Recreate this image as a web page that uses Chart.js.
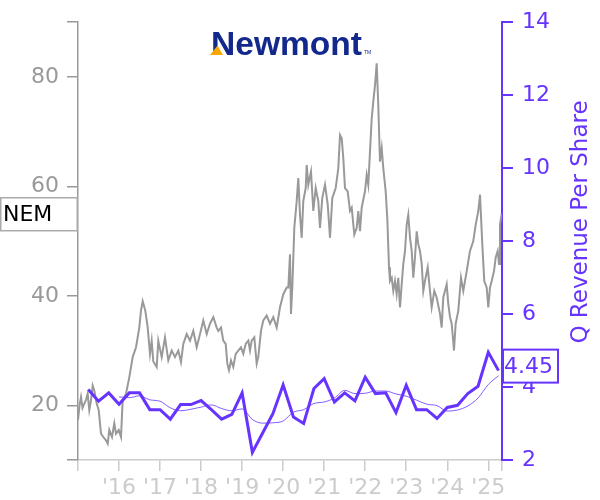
<!DOCTYPE html>
<html><head><meta charset="utf-8">
<script src="https://cdn.jsdelivr.net/npm/chart.js@4.4.1/dist/chart.umd.min.js"></script>
<style>html,body{margin:0;padding:0;background:#fff;}#wrap{width:600px;height:500px;position:relative;}</style>
</head><body><div id="wrap"><canvas id="c" width="600" height="500"></canvas></div>
<script>
// ---- data (decimal years) ----
const priceDates = [2015.000,2015.037,2015.073,2015.110,2015.154,2015.195,2015.236,2015.275,2015.317,2015.358,2015.397,2015.456,2015.505,2015.536,2015.561,2015.617,2015.682,2015.724,2015.763,2015.829,2015.885,2015.926,2015.992,2016.048,2016.089,2016.170,2016.250,2016.333,2016.414,2016.494,2016.535,2016.577,2016.640,2016.699,2016.755,2016.796,2016.835,2016.918,2016.957,2017.040,2017.120,2017.201,2017.284,2017.364,2017.445,2017.510,2017.566,2017.649,2017.730,2017.810,2017.893,2017.973,2018.054,2018.137,2018.217,2018.298,2018.380,2018.419,2018.485,2018.541,2018.600,2018.639,2018.680,2018.729,2018.785,2018.844,2018.907,2018.973,2019.029,2019.087,2019.151,2019.192,2019.233,2019.297,2019.355,2019.394,2019.460,2019.516,2019.599,2019.680,2019.760,2019.843,2019.923,2020.004,2020.087,2020.126,2020.167,2020.191,2020.223,2020.272,2020.330,2020.369,2020.411,2020.452,2020.491,2020.550,2020.574,2020.613,2020.679,2020.735,2020.793,2020.857,2020.898,2020.954,2021.020,2021.086,2021.142,2021.198,2021.281,2021.344,2021.386,2021.427,2021.466,2021.507,2021.573,2021.629,2021.671,2021.734,2021.793,2021.832,2021.873,2021.914,2021.995,2022.036,2022.075,2022.117,2022.158,2022.197,2022.239,2022.280,2022.319,2022.360,2022.402,2022.441,2022.499,2022.538,2022.580,2022.604,2022.646,2022.685,2022.726,2022.767,2022.806,2022.848,2022.889,2022.928,2022.970,2023.011,2023.050,2023.092,2023.133,2023.172,2023.213,2023.255,2023.294,2023.335,2023.377,2023.416,2023.457,2023.523,2023.579,2023.620,2023.684,2023.742,2023.823,2023.864,2023.903,2023.986,2024.025,2024.067,2024.108,2024.164,2024.205,2024.269,2024.335,2024.391,2024.474,2024.554,2024.634,2024.693,2024.756,2024.798,2024.854,2024.902,2024.961,2025.000,2025.041,2025.083,2025.139,2025.180,2025.229,2025.261,2025.285,2025.327];
const priceValues = [17.3,20.0,21.5,19.5,20.3,21.0,22.1,19.1,20.9,23.6,22.7,20.3,19.1,16.7,14.8,14.2,13.6,13.0,15.5,14.2,16.7,14.8,15.5,14.2,20.9,22.1,25.1,28.8,30.6,34.2,37.3,39.0,37.3,34.2,29.4,31.8,28.0,27.0,31.8,28.8,32.4,28.2,30.0,28.8,30.0,27.9,31.2,33.0,31.8,33.6,30.6,33.0,35.5,33.0,34.9,36.1,34.2,33.6,34.2,31.8,31.2,27.6,26.4,28.2,27.0,29.4,30.0,30.6,29.4,31.2,31.8,30.0,31.8,32.4,27.6,28.8,33.6,35.5,36.4,34.9,36.1,34.2,37.9,40.3,41.5,41.5,47.6,36.7,41.5,52.4,57.3,61.5,54.8,50.6,57.3,59.7,63.9,60.3,62.7,55.5,59.7,57.3,52.4,57.9,60.3,56.7,50.6,57.9,59.7,63.3,69.4,68.8,65.2,59.7,59.1,55.5,56.1,51.2,52.4,55.5,51.8,56.1,59.1,62.1,60.3,66.4,72.4,75.5,78.5,82.5,74.8,64.5,67.0,63.3,59.1,54.2,45.2,42.7,43.3,40.9,42.7,40.3,43.3,37.9,42.1,45.8,48.2,53.0,54.8,50.6,48.2,43.3,47.0,51.8,49.4,48.2,45.8,40.9,42.7,45.2,40.9,37.9,40.9,39.7,36.7,34.2,39.7,42.1,38.5,36.1,34.9,30.0,34.9,37.3,43.3,40.9,44.5,48.2,50.0,53.0,55.5,58.5,49.4,42.7,41.5,37.9,41.5,42.7,44.5,47.0,48.2,45.8,53.0,55.0];

const quarterDates = [2015.25,2015.5,2015.75,2016.0,2016.25,2016.5,2016.75,2017.0,2017.25,2017.5,2017.75,2018.0,2018.25,2018.5,2018.75,2019.0,2019.25,2019.5,2019.75,2020.0,2020.25,2020.5,2020.75,2021.0,2021.25,2021.5,2021.75,2022.0,2022.25,2022.5,2022.75,2023.0,2023.25,2023.5,2023.75,2024.0,2024.25,2024.5,2024.75,2025.0,2025.25];
const revenuePerShare = [3.93,3.61,3.84,3.53,3.84,3.84,3.38,3.38,3.12,3.52,3.52,3.63,3.38,3.12,3.25,3.84,2.21,2.74,3.27,4.06,3.18,3.00,3.96,4.23,3.59,3.84,3.62,4.27,3.82,3.84,3.30,4.05,3.38,3.38,3.14,3.44,3.50,3.82,4.02,4.95,4.45];

const avgDates = [2016.0,2016.25,2016.5,2016.75,2017.0,2017.25,2017.5,2017.75,2018.0,2018.25,2018.5,2018.75,2019.0,2019.25,2019.5,2019.75,2020.0,2020.25,2020.5,2020.75,2021.0,2021.25,2021.5,2021.75,2022.0,2022.25,2022.5,2022.75,2023.0,2023.25,2023.5,2023.75,2024.0,2024.25,2024.5,2024.75,2025.0,2025.25];
const avgRevenue = [3.73,3.71,3.76,3.65,3.61,3.43,3.35,3.39,3.45,3.51,3.41,3.35,3.40,3.11,3.01,3.02,3.07,3.31,3.38,3.55,3.59,3.70,3.91,3.82,3.83,3.89,3.89,3.81,3.75,3.64,3.53,3.49,3.34,3.37,3.48,3.70,4.07,4.31];

const yearTicks = [2015,2016,2017,2018,2019,2020,2021,2022,2023,2024,2025];
const xEnd = 2025.334;
const leftTicks = [10,20,40,60,80,90];
const leftLabeled = [20,40,60,80];
const rightTicks = [2,4,6,8,10,12,14];
const tickerLabel = 'NEM';
const lastRevenueLabel = '4.45';
const lastRevenueValue = 4.45;
const logoText = 'Newmont';
const rightTitle = 'Q Revenue Per Share';

const PURPLE = '#6633ff';
const GRAY = '#999999';
const LIGHT = '#cccccc';
const FONT = 'DejaVu Sans';

const overlay = {
  id: 'overlay',
  afterDraw(chart) {
    const ctx = chart.ctx;
    // logo
    ctx.save();
    ctx.font = 'bold 33px "Liberation Sans"';
    const w = ctx.measureText(logoText).width;
    ctx.translate(211, 55);
    ctx.scale(151 / w, 1);
    ctx.fillStyle = '#13288c';
    ctx.textBaseline = 'alphabetic';
    ctx.fillText(logoText, 0, 0);
    ctx.restore();
    ctx.save();
    ctx.fillStyle = '#f5a800';
    ctx.beginPath();
    ctx.moveTo(210, 55); ctx.lineTo(223, 55); ctx.lineTo(217.5, 45.5); ctx.closePath(); ctx.fill();
    ctx.fillStyle = '#13288c';
    ctx.font = '5px "Liberation Sans"';
    ctx.fillText('TM', 364, 54);
    ctx.restore();

    // right axis title
    ctx.save();
    ctx.translate(581, 222);
    ctx.rotate(-Math.PI / 2);
    ctx.font = '23px "' + FONT + '"';
    ctx.fillStyle = PURPLE;
    ctx.textAlign = 'center';
    ctx.textBaseline = 'middle';
    ctx.fillText(rightTitle, 0, 0);
    ctx.restore();

    // ticker box
    const py = chart.scales.y.getPixelForValue(priceValues[priceValues.length - 1]);
    ctx.save();
    ctx.fillStyle = '#ffffff';
    ctx.strokeStyle = '#aaaaaa';
    ctx.lineWidth = 1.5;
    ctx.fillRect(0.75, py - 16, 76.5, 33);
    ctx.strokeRect(0.75, py - 16, 76.5, 33);
    ctx.fillStyle = '#000000';
    ctx.font = '22px "' + FONT + '"';
    ctx.textBaseline = 'middle';
    ctx.fillText(tickerLabel, 3, py + 1.5);
    ctx.restore();

    // last revenue box
    const ry = chart.scales.y2.getPixelForValue(lastRevenueValue) - 4.5;
    ctx.save();
    ctx.fillStyle = '#ffffff';
    ctx.strokeStyle = PURPLE;
    ctx.lineWidth = 2;
    ctx.fillRect(503, ry - 16.5, 55, 33);
    ctx.strokeRect(503, ry - 16.5, 55, 33);
    ctx.fillStyle = PURPLE;
    ctx.font = '22px "' + FONT + '"';
    ctx.textBaseline = 'middle';
    ctx.fillText(lastRevenueLabel, 504, ry + 1);
    ctx.restore();
  }
};

new Chart(document.getElementById('c'), {
  type: 'line',
  data: {
    datasets: [
      { label: 'Q Revenue Per Share', data: quarterDates.map((t, i) => ({ x: t, y: revenuePerShare[i] })), yAxisID: 'y2', borderColor: PURPLE, borderWidth: 3, pointRadius: 0, order: 1, borderJoinStyle: 'miter' },
      { label: 'Average', data: avgDates.map((t, i) => ({ x: t, y: avgRevenue[i] })), yAxisID: 'y2', borderColor: PURPLE, borderWidth: 0.8, pointRadius: 0, order: 2, cubicInterpolationMode: 'monotone' },
      { label: 'Price', data: priceDates.map((t, i) => ({ x: t, y: priceValues[i] })), yAxisID: 'y', borderColor: GRAY, borderWidth: 2, pointRadius: 0, order: 3 }
    ]
  },
  options: {
    responsive: false,
    animation: false,
    devicePixelRatio: 1,
    layout: { padding: { top: 20, left: 0, right: 0, bottom: 0 } },
    plugins: { legend: { display: false }, tooltip: { enabled: false } },
    scales: {
      x: {
        type: 'linear', min: 2015, max: xEnd,
        afterBuildTicks: s => { s.ticks = yearTicks.concat([xEnd]).map(v => ({ value: v })); },
        ticks: {
          autoSkip: false, maxRotation: 0, minRotation: 0, color: LIGHT, padding: 4,
          font: { family: FONT, size: 22 },
          callback: v => (Number.isInteger(v) && v >= 2016) ? "'" + String(v).slice(2) : ''
        },
        grid: { drawOnChartArea: false, drawTicks: true, tickLength: 11, color: LIGHT, lineWidth: 1.5 },
        border: { display: true, color: LIGHT, width: 1.5 },
        afterFit: s => { s.height = 40; }
      },
      y: {
        type: 'linear', position: 'left', min: 10, max: 90,
        afterBuildTicks: s => { s.ticks = leftTicks.map(v => ({ value: v })); },
        ticks: { color: GRAY, padding: 8, font: { family: FONT, size: 22 }, callback: v => leftLabeled.includes(v) ? String(v) : '' },
        grid: { drawOnChartArea: false, drawTicks: true, tickLength: 11, color: GRAY, lineWidth: 1.5 },
        border: { display: true, color: GRAY, width: 1.5 },
        afterFit: s => { s.width = 78; }
      },
      y2: {
        type: 'linear', position: 'right', min: 2, max: 14,
        afterBuildTicks: s => { s.ticks = rightTicks.map(v => ({ value: v })); },
        ticks: { color: PURPLE, padding: 9, font: { family: FONT, size: 22 } },
        grid: { drawOnChartArea: false, drawTicks: true, tickLength: 11, color: PURPLE, lineWidth: 2 },
        border: { display: true, color: PURPLE, width: 2 },
        afterFit: s => { s.width = 98; }
      }
    }
  },
  plugins: [overlay]
});
</script>
</body></html>
